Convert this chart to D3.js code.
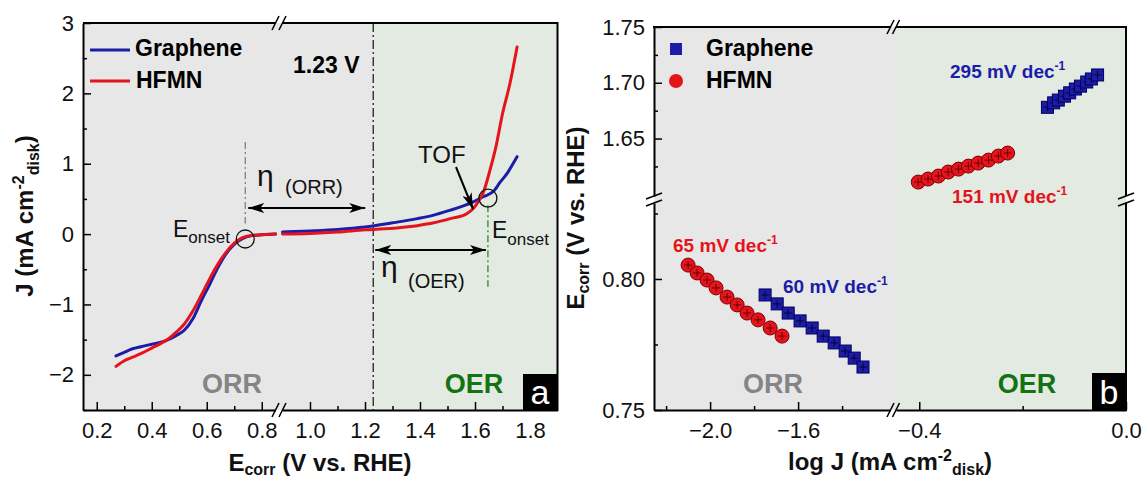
<!DOCTYPE html>
<html>
<head>
<script src="https://d3js.org/d3.v7.min.js"></script>
<style>
  body { margin: 0; background: #fff; }
  text { font-family: Arial, "Liberation Sans", sans-serif; }
</style>
</head>
<body>
<svg id="chart" width="1142" height="481"></svg>
<script>
// ---------- panel a : LSV curves ----------
const eOrr = [0.27, 0.30, 0.33, 0.36, 0.40, 0.43, 0.46, 0.49, 0.52, 0.55, 0.58, 0.61, 0.64, 0.67, 0.70, 0.73, 0.76, 0.80, 0.85];
const jGrapheneOrr = [-1.73, -1.68, -1.63, -1.60, -1.565, -1.54, -1.50, -1.44, -1.36, -1.20, -0.95, -0.72, -0.48, -0.28, -0.145, -0.065, -0.025, -0.01, 0.0];
const jHfmnOrr = [-1.88, -1.80, -1.75, -1.70, -1.62, -1.56, -1.49, -1.39, -1.27, -1.09, -0.87, -0.64, -0.43, -0.26, -0.13, -0.05, -0.02, -0.01, 0.0];

const eOerGraphene = [0.90, 1.00, 1.10, 1.20, 1.30, 1.39, 1.45, 1.51, 1.55, 1.59, 1.63, 1.67, 1.69, 1.72, 1.735, 1.753];
const jOerGraphene = [0.03, 0.045, 0.065, 0.10, 0.16, 0.22, 0.27, 0.34, 0.39, 0.45, 0.53, 0.62, 0.73, 0.88, 0.98, 1.10];
const eOerHfmn = [0.90, 1.00, 1.10, 1.20, 1.27, 1.39, 1.45, 1.51, 1.57, 1.593, 1.615, 1.633, 1.651, 1.676, 1.70, 1.727, 1.753];
const jOerHfmn = [0.00, 0.01, 0.03, 0.06, 0.075, 0.12, 0.16, 0.22, 0.29, 0.36, 0.48, 0.62, 0.86, 1.24, 1.71, 2.14, 2.66];

const xTicksA1 = [0.2, 0.4, 0.6, 0.8];
const xTicksA2 = [1.0, 1.2, 1.4, 1.6, 1.8];
const yTicksA = [-2, -1, 0, 1, 2, 3];

// ---------- panel b : Tafel plots ----------
const logJHfmnOrr = [-2.100, -2.059, -2.014, -1.973, -1.923, -1.877, -1.832, -1.782, -1.727, -1.673];
const eHfmnOrr = [0.8053, 0.8023, 0.7996, 0.7966, 0.7931, 0.7901, 0.7870, 0.7844, 0.7813, 0.7782];
const logJGrapheneOrr = [-1.750, -1.695, -1.645, -1.591, -1.536, -1.486, -1.436, -1.386, -1.345, -1.305];
const eGrapheneOrr = [0.7939, 0.7905, 0.7870, 0.7840, 0.7813, 0.7782, 0.7756, 0.7725, 0.7698, 0.7664];
const logJHfmnOer = [-0.402, -0.383, -0.363, -0.344, -0.324, -0.305, -0.286, -0.266, -0.247, -0.229];
const eHfmnOer = [1.611, 1.6137, 1.6164, 1.6200, 1.6226, 1.6253, 1.6280, 1.6307, 1.6343, 1.6370];
const logJGrapheneOer = [-0.152, -0.140, -0.131, -0.119, -0.109, -0.098, -0.088, -0.076, -0.067, -0.055];
const eGrapheneOer = [1.678, 1.682, 1.6845, 1.688, 1.691, 1.6944, 1.697, 1.7007, 1.7034, 1.707];

const xTicksB1 = [-2.0, -1.6];
const xTicksB2 = [-0.4, 0.0];
const yTicksB1 = [1.65, 1.70, 1.75];
const yTicksB2 = [0.75, 0.80];

const BLUE = "#1c1ca8", RED = "#e5141c", GRAY_BG = "#e7e7e7", GREEN_BG = "#e2eae2";
const GREEN_TXT = "#137313", GRAY_TXT = "#858585";

const svg = d3.select("#chart");
const defs = svg.append("defs");
defs.append("marker").attr("id", "ah")
  .attr("viewBox", "0 0 16 10").attr("refX", 16).attr("refY", 5)
  .attr("markerWidth", 16).attr("markerHeight", 10)
  .attr("markerUnits", "userSpaceOnUse").attr("orient", "auto-start-reverse")
  .append("path").attr("d", "M0,0 L16,5 L0,10 L4,5 Z").attr("fill", "#000");

function line(g, x1, y1, x2, y2, w) {
  return g.append("line").attr("x1", x1).attr("y1", y1).attr("x2", x2).attr("y2", y2)
    .attr("stroke", "#000").attr("stroke-width", w || 2);
}
function breakH(g, x, y) { line(g, x - 3.5, y + 7, x + 3.5, y - 7, 1.6); }
function breakV(g, x, y) { line(g, x - 8, y + 3, x + 8, y - 3, 1.6); }

function styleAxis(sel, size) {
  sel.selectAll(".domain").attr("stroke-width", 2);
  sel.selectAll(".tick line").attr("stroke-width", 1.5);
  sel.selectAll(".tick text").attr("font-size", size || 22).attr("fill", "#111");
}

// ================= PANEL A =================
const aL = 83, aR = 557.5, aT = 23, aB = 410;
const xa1 = d3.scaleLinear().domain([0.15, 0.85]).range([aL, 275.5]);
const xa2 = d3.scaleLinear().domain([0.9, 1.9]).range([282.5, aR]);
const ya = d3.scaleLinear().domain([-2.5, 3]).range([aB, aT]);

const ga = svg.append("g");
ga.append("rect").attr("x", aL).attr("y", aT).attr("width", xa2(1.23) - aL).attr("height", aB - aT).attr("fill", GRAY_BG);
ga.append("rect").attr("x", xa2(1.23)).attr("y", aT).attr("width", aR - xa2(1.23)).attr("height", aB - aT).attr("fill", GREEN_BG);

// 1.23 V line
ga.append("line").attr("x1", xa2(1.23)).attr("x2", xa2(1.23)).attr("y1", aT).attr("y2", aB)
  .attr("stroke", "#222").attr("stroke-width", 1.3).attr("stroke-dasharray", "9,3,2,3");

// curves
const lineLow = d3.line().x(d => xa1(d[0])).y(d => ya(d[1])).curve(d3.curveMonotoneX);
const lineHigh = d3.line().x(d => xa2(d[0])).y(d => ya(d[1])).curve(d3.curveMonotoneX);
[[jGrapheneOrr, BLUE], [jHfmnOrr, RED]].forEach(([j, c]) => {
  ga.append("path").attr("d", lineLow(d3.zip(eOrr, j))).attr("fill", "none")
    .attr("stroke", c).attr("stroke-width", 3).attr("stroke-linecap", "round");
});
[[eOerGraphene, jOerGraphene, BLUE], [eOerHfmn, jOerHfmn, RED]].forEach(([e, j, c]) => {
  ga.append("path").attr("d", lineHigh(d3.zip(e, j))).attr("fill", "none")
    .attr("stroke", c).attr("stroke-width", 3).attr("stroke-linecap", "round");
});

// axes
const axA1 = ga.append("g").attr("transform", `translate(0,${aB})`)
  .call(d3.axisBottom(xa1).tickValues(xTicksA1).tickSize(-8).tickSizeOuter(0).tickPadding(12).tickFormat(d3.format(".1f")));
const axA2 = ga.append("g").attr("transform", `translate(0,${aB})`)
  .call(d3.axisBottom(xa2).tickValues(xTicksA2).tickSize(-8).tickSizeOuter(0).tickPadding(12).tickFormat(d3.format(".1f")));
ga.append("g").attr("transform", `translate(0,${aB})`)
  .call(d3.axisBottom(xa1).tickValues([0.3, 0.5, 0.7]).tickSize(-4).tickFormat(""))
  .call(g => g.select(".domain").remove()).selectAll("line").attr("stroke-width", 1.5);
ga.append("g").attr("transform", `translate(0,${aB})`)
  .call(d3.axisBottom(xa2).tickValues([1.1, 1.3, 1.5, 1.7]).tickSize(-4).tickFormat(""))
  .call(g => g.select(".domain").remove()).selectAll("line").attr("stroke-width", 1.5);
const axAy = ga.append("g").attr("transform", `translate(${aL},0)`)
  .call(d3.axisLeft(ya).tickValues(yTicksA).tickSize(-8).tickSizeOuter(0).tickPadding(9).tickFormat(d3.format("d")));
ga.append("g").attr("transform", `translate(${aL},0)`)
  .call(d3.axisLeft(ya).tickValues([-2.5, -1.5, -0.5, 0.5, 1.5, 2.5]).tickSize(-4).tickFormat(""))
  .call(g => g.select(".domain").remove()).selectAll("line").attr("stroke-width", 1.5);
[axA1, axA2, axAy].forEach(a => styleAxis(a));
line(ga, aL, aT, xa1.range()[1], aT);
line(ga, xa2.range()[0], aT, aR, aT);
line(ga, aR, aT - 1, aR, aB + 1);
breakH(ga, xa1.range()[1], aT); breakH(ga, xa2.range()[0], aT);
breakH(ga, xa1.range()[1], aB); breakH(ga, xa2.range()[0], aB);

// legend
ga.append("line").attr("x1", 90).attr("x2", 130).attr("y1", 50).attr("y2", 50).attr("stroke", BLUE).attr("stroke-width", 3);
ga.append("line").attr("x1", 90).attr("x2", 130).attr("y1", 81).attr("y2", 81).attr("stroke", RED).attr("stroke-width", 3);
ga.append("text").attr("x", 135).attr("y", 56).attr("font-size", 23).attr("font-weight", "bold").text("Graphene");
ga.append("text").attr("x", 136).attr("y", 88).attr("font-size", 23).attr("font-weight", "bold").text("HFMN");
ga.append("text").attr("x", 293).attr("y", 73).attr("font-size", 23).attr("font-weight", "bold").text("1.23 V");

// onset markers and annotations
const onsetL = [0.74, -0.07], onsetR = [1.647, 0.51];
ga.append("line").attr("x1", xa1(onsetL[0])).attr("x2", xa1(onsetL[0])).attr("y1", ya(1.31)).attr("y2", ya(0.15))
  .attr("stroke", "#777").attr("stroke-width", 1.2).attr("stroke-dasharray", "7,3,2,3");
ga.append("circle").attr("cx", xa1(onsetL[0])).attr("cy", ya(onsetL[1])).attr("r", 9)
  .attr("fill", "none").attr("stroke", "#111").attr("stroke-width", 1.3);
ga.append("line").attr("x1", xa2(onsetR[0])).attr("x2", xa2(onsetR[0])).attr("y1", ya(0.41)).attr("y2", ya(-0.75))
  .attr("stroke", "#2a8a2a").attr("stroke-width", 1.3).attr("stroke-dasharray", "7,3,2,3");
ga.append("circle").attr("cx", xa2(onsetR[0])).attr("cy", ya(onsetR[1])).attr("r", 9)
  .attr("fill", "none").attr("stroke", "#111").attr("stroke-width", 1.3);

const eTxtL = ga.append("text").attr("x", 173).attr("y", 237).attr("font-size", 23).attr("fill", "#111");
eTxtL.append("tspan").text("E");
eTxtL.append("tspan").attr("dy", 6).attr("font-size", 17).text("onset");
const eTxtR = ga.append("text").attr("x", 492).attr("y", 238).attr("font-size", 23).attr("fill", "#111");
eTxtR.append("tspan").text("E");
eTxtR.append("tspan").attr("dy", 7).attr("font-size", 17).text("onset");

// eta ORR
ga.append("line").attr("x1", xa1(onsetL[0]) + 3).attr("x2", xa2(1.23) - 8).attr("y1", 208).attr("y2", 208)
  .attr("stroke", "#000").attr("stroke-width", 2).attr("marker-start", "url(#ah)").attr("marker-end", "url(#ah)");
ga.append("text").attr("x", 257).attr("y", 186).attr("font-size", 30).attr("fill", "#111").text("η");
ga.append("text").attr("x", 285).attr("y", 194).attr("font-size", 20).attr("fill", "#111").text("(ORR)");
// eta OER
ga.append("line").attr("x1", xa2(1.23) + 2).attr("x2", xa2(onsetR[0]) - 2).attr("y1", 250).attr("y2", 250)
  .attr("stroke", "#000").attr("stroke-width", 2).attr("marker-start", "url(#ah)").attr("marker-end", "url(#ah)");
ga.append("text").attr("x", 381).attr("y", 277).attr("font-size", 30).attr("fill", "#111").text("η");
ga.append("text").attr("x", 408).attr("y", 288).attr("font-size", 20).attr("fill", "#111").text("(OER)");
// TOF
ga.append("text").attr("x", 418).attr("y", 163).attr("font-size", 24).attr("fill", "#111").text("TOF");
ga.append("line").attr("x1", 456).attr("y1", 167).attr("x2", 473).attr("y2", 209)
  .attr("stroke", "#000").attr("stroke-width", 2).attr("marker-end", "url(#ah)");

ga.append("text").attr("x", 232).attr("y", 393).attr("text-anchor", "middle").attr("font-size", 27)
  .attr("font-weight", "bold").attr("fill", GRAY_TXT).text("ORR");
ga.append("text").attr("x", 474).attr("y", 393).attr("text-anchor", "middle").attr("font-size", 27)
  .attr("font-weight", "bold").attr("fill", GREEN_TXT).text("OER");
ga.append("rect").attr("x", 523).attr("y", 374).attr("width", aR - 523).attr("height", aB - 374).attr("fill", "#000");
ga.append("text").attr("x", 540).attr("y", 404).attr("text-anchor", "middle").attr("font-size", 34).attr("fill", "#fff").text("a");

// axis titles
const tA = ga.append("text").attr("x", 320).attr("y", 471).attr("text-anchor", "middle")
  .attr("font-size", 24).attr("font-weight", "bold").attr("fill", "#111");
tA.append("tspan").text("E");
tA.append("tspan").attr("dy", 4).attr("font-size", 16).text("corr");
tA.append("tspan").attr("dy", -4).text(" (V vs. RHE)");
const tAy = ga.append("text").attr("transform", "translate(33,216) rotate(-90)").attr("text-anchor", "middle")
  .attr("font-size", 24).attr("font-weight", "bold").attr("fill", "#111");
tAy.append("tspan").text("J (mA cm");
tAy.append("tspan").attr("dy", -9).attr("font-size", 16).text("-2");
tAy.append("tspan").attr("dy", 15).attr("font-size", 16).text("disk");
tAy.append("tspan").attr("dy", -6).text(")");

// ================= PANEL B =================
const bL = 654, bR = 1126, bT = 27, bB = 410;
const xb1 = d3.scaleLinear().domain([-2.255, -1.18]).range([bL, 890.5]);
const xb2 = d3.scaleLinear().domain([-0.445, 0]).range([896, bR]);
const yb1 = d3.scaleLinear().domain([1.5985, 1.75]).range([196, bT]);
const yb2 = d3.scaleLinear().domain([0.75, 0.829]).range([bB, 203]);

const gb = svg.append("g");
gb.append("rect").attr("x", bL).attr("y", bT).attr("width", xb2.range()[0] - bL).attr("height", bB - bT).attr("fill", GRAY_BG);
gb.append("rect").attr("x", xb2.range()[0]).attr("y", bT).attr("width", bR - xb2.range()[0]).attr("height", bB - bT).attr("fill", GREEN_BG);

const axB1 = gb.append("g").attr("transform", `translate(0,${bB})`)
  .call(d3.axisBottom(xb1).tickValues(xTicksB1).tickSize(-8).tickSizeOuter(0).tickPadding(12).tickFormat(d3.format(".1f")));
const axB2 = gb.append("g").attr("transform", `translate(0,${bB})`)
  .call(d3.axisBottom(xb2).tickValues(xTicksB2).tickSize(-8).tickSizeOuter(0).tickPadding(12).tickFormat(d3.format(".1f")));
gb.append("g").attr("transform", `translate(0,${bB})`)
  .call(d3.axisBottom(xb1).tickValues([-2.2, -1.8, -1.4]).tickSize(-4).tickFormat(""))
  .call(g => g.select(".domain").remove()).selectAll("line").attr("stroke-width", 1.5);
gb.append("g").attr("transform", `translate(0,${bB})`)
  .call(d3.axisBottom(xb2).tickValues([-0.2]).tickSize(-4).tickFormat(""))
  .call(g => g.select(".domain").remove()).selectAll("line").attr("stroke-width", 1.5);
const axBy1 = gb.append("g").attr("transform", `translate(${bL},0)`)
  .call(d3.axisLeft(yb1).tickValues(yTicksB1).tickSize(-8).tickSizeOuter(0).tickPadding(9).tickFormat(d3.format(".2f")));
const axBy2 = gb.append("g").attr("transform", `translate(${bL},0)`)
  .call(d3.axisLeft(yb2).tickValues(yTicksB2).tickSize(-8).tickSizeOuter(0).tickPadding(9).tickFormat(d3.format(".2f")));
gb.append("g").attr("transform", `translate(${bL},0)`)
  .call(d3.axisLeft(yb1).tickValues([1.625, 1.675, 1.725]).tickSize(-4).tickFormat(""))
  .call(g => g.select(".domain").remove()).selectAll("line").attr("stroke-width", 1.5);
gb.append("g").attr("transform", `translate(${bL},0)`)
  .call(d3.axisLeft(yb2).tickValues([0.775, 0.825]).tickSize(-4).tickFormat(""))
  .call(g => g.select(".domain").remove()).selectAll("line").attr("stroke-width", 1.5);
[axB1, axB2, axBy1, axBy2].forEach(a => styleAxis(a));
line(gb, bL - 1, bT, xb1.range()[1], bT);
line(gb, xb2.range()[0], bT, bR + 1, bT);
line(gb, bR, bT, bR, yb1.range()[0]);
line(gb, bR, yb2.range()[1], bR, bB + 1);
breakH(gb, xb1.range()[1], bT); breakH(gb, xb2.range()[0], bT);
breakH(gb, xb1.range()[1], bB); breakH(gb, xb2.range()[0], bB);
breakV(gb, bL, yb1.range()[0]); breakV(gb, bL, yb2.range()[1]);
breakV(gb, bR, yb1.range()[0]); breakV(gb, bR, yb2.range()[1]);

// markers
function circles(xs, ys, xsc, ysc) {
  d3.zip(xs, ys).forEach(([x, y]) => {
    const cx = xsc(x), cy = ysc(y);
    gb.append("circle").attr("cx", cx).attr("cy", cy).attr("r", 7)
      .attr("fill", RED).attr("stroke", "#7a0000").attr("stroke-width", 1);
    line(gb, cx - 4, cy, cx + 4, cy, 0.8).attr("stroke", "#400");
    line(gb, cx, cy - 4, cx, cy + 4, 0.8).attr("stroke", "#400");
  });
}
function squares(xs, ys, xsc, ysc) {
  d3.zip(xs, ys).forEach(([x, y]) => {
    const cx = xsc(x), cy = ysc(y);
    gb.append("rect").attr("x", cx - 6).attr("y", cy - 6).attr("width", 12).attr("height", 12)
      .attr("fill", BLUE).attr("stroke", "#00005a").attr("stroke-width", 1);
    line(gb, cx - 4, cy, cx + 4, cy, 0.8).attr("stroke", "#001");
    line(gb, cx, cy - 4, cx, cy + 4, 0.8).attr("stroke", "#001");
  });
}
squares(logJGrapheneOrr, eGrapheneOrr, xb1, yb2);
circles(logJHfmnOrr, eHfmnOrr, xb1, yb2);
squares(logJGrapheneOer, eGrapheneOer, xb2, yb1);
circles(logJHfmnOer, eHfmnOer, xb2, yb1);

// slope labels
function slopeLabel(x, y, txt, color) {
  const t = gb.append("text").attr("x", x).attr("y", y).attr("font-size", 19).attr("font-weight", "bold").attr("fill", color);
  t.append("tspan").text(txt);
  t.append("tspan").attr("dy", -8).attr("font-size", 12).text("-1");
}
slopeLabel(673, 252, "65 mV dec", RED);
slopeLabel(783, 293, "60 mV dec", BLUE);
slopeLabel(950, 78, "295 mV dec", BLUE);
slopeLabel(952, 203, "151 mV dec", RED);

// legend
gb.append("rect").attr("x", 670).attr("y", 43).attr("width", 12).attr("height", 12).attr("fill", BLUE);
gb.append("circle").attr("cx", 676).attr("cy", 81).attr("r", 7).attr("fill", RED);
gb.append("text").attr("x", 706).attr("y", 56).attr("font-size", 23).attr("font-weight", "bold").text("Graphene");
gb.append("text").attr("x", 706).attr("y", 88).attr("font-size", 23).attr("font-weight", "bold").text("HFMN");

gb.append("text").attr("x", 773).attr("y", 393).attr("text-anchor", "middle").attr("font-size", 27)
  .attr("font-weight", "bold").attr("fill", GRAY_TXT).text("ORR");
gb.append("text").attr("x", 1027).attr("y", 393).attr("text-anchor", "middle").attr("font-size", 27)
  .attr("font-weight", "bold").attr("fill", GREEN_TXT).text("OER");
gb.append("rect").attr("x", 1092).attr("y", 373).attr("width", bR - 1092).attr("height", bB - 373).attr("fill", "#000");
gb.append("text").attr("x", 1109).attr("y", 404).attr("text-anchor", "middle").attr("font-size", 34).attr("fill", "#fff").text("b");

const tB = gb.append("text").attr("x", 890).attr("y", 470).attr("text-anchor", "middle")
  .attr("font-size", 24).attr("font-weight", "bold").attr("fill", "#111");
tB.append("tspan").text("log J (mA cm");
tB.append("tspan").attr("dy", -9).attr("font-size", 16).text("-2");
tB.append("tspan").attr("dy", 14).attr("font-size", 16).text("disk");
tB.append("tspan").attr("dy", -5).text(")");
const tBy = gb.append("text").attr("transform", "translate(584,218) rotate(-90)").attr("text-anchor", "middle")
  .attr("font-size", 24).attr("font-weight", "bold").attr("fill", "#111");
tBy.append("tspan").text("E");
tBy.append("tspan").attr("dy", 5).attr("font-size", 16).text("corr");
tBy.append("tspan").attr("dy", -5).text(" (V vs. RHE)");
</script>
</body>
</html>
